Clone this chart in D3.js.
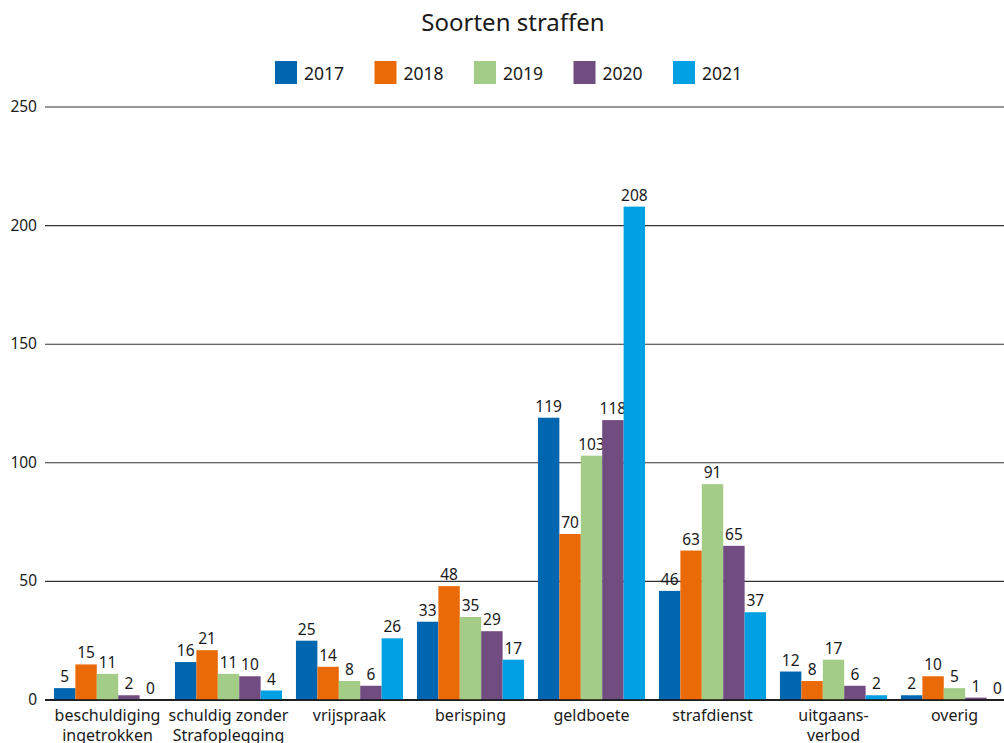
<!DOCTYPE html>
<html><head><meta charset="utf-8">
<script src="https://cdn.jsdelivr.net/npm/d3@7"></script>
<style>body{margin:0;background:#fff}svg{display:block}text{font-family:"Noto Sans",sans-serif;fill:#1a1a1a}</style>
</head><body>
<svg id="c" width="1004" height="743"></svg>
<script>
const categories = [["beschuldiging","ingetrokken"],["schuldig zonder","Strafoplegging"],["vrijspraak"],["berisping"],["geldboete"],["strafdienst"],["uitgaans-","verbod"],["overig"]];
const years = ["2017","2018","2019","2020","2021"];
const colors = ["#0066b0","#eb6a08","#a3cd86","#704c81","#00a0e2"];
const v2017 = [5,16,25,33,119,46,12,2];
const v2018 = [15,21,14,48,70,63,8,10];
const v2019 = [11,11,8,35,103,91,17,5];
const v2020 = [2,10,6,29,118,65,6,1];
const v2021 = [0,4,26,17,208,37,2,0];
const yTicks = [0,50,100,150,200,250];
const title = "Soorten straffen";

const series = [v2017,v2018,v2019,v2020,v2021];
const svg = d3.select("#c");
const catKeys = categories.map(c=>c.join(" "));
const x0 = d3.scaleBand().domain(catKeys).range([47,1015]).paddingInner(0.115).paddingOuter(0.0575);
const x1 = d3.scaleBand().domain(years).range([0,x0.bandwidth()]);
const y = d3.scaleLinear().domain([0,250]).range([700,107]);

svg.append("text").attr("x",513).attr("y",31).attr("text-anchor","middle").style("font-size","24px").text(title);

const leg = svg.append("g");
years.forEach((yr,i)=>{
  const gx = 275 + i*99.5;
  leg.append("rect").attr("x",gx).attr("y",61).attr("width",22).attr("height",23).attr("fill",colors[i]);
  leg.append("text").attr("x",gx+29).attr("y",80).style("font-size","17.5px").text(yr);
});

const grid = svg.append("g");
yTicks.forEach(t=>{
  grid.append("line").attr("x1",45).attr("x2",1004).attr("y1",y(t)).attr("y2",y(t))
    .attr("stroke", t===0 ? "#111" : "#333").attr("stroke-width", t===0?1.5:1.1);
  grid.append("text").attr("x",37).attr("y",y(t)+5).attr("text-anchor","end").style("font-size","15.5px").text(t);
});

const g = svg.append("g");
catKeys.forEach((c,ci)=>{
  years.forEach((yr,si)=>{
    const val = series[si][ci];
    const bx = x0(c)+x1(yr);
    g.append("rect").attr("x",bx).attr("y",y(val)).attr("width",x1.bandwidth()).attr("height",y(0)-y(val)).attr("fill",colors[si]);
    g.append("text").attr("x",bx+x1.bandwidth()/2).attr("y",y(val)-6).attr("text-anchor","middle").style("font-size","15.5px").text(val);
  });
  const cx = x0(c)+x0.bandwidth()/2;
  categories[ci].forEach((line,li)=>{
    svg.append("text").attr("x",cx).attr("y",721+li*20).attr("text-anchor","middle").style("font-size","16px").text(line);
  });
});
svg.append("line").attr("x1",45).attr("x2",1004).attr("y1",y(0)).attr("y2",y(0)).attr("stroke","#111").attr("stroke-width",1.5);
</script>
</body></html>
